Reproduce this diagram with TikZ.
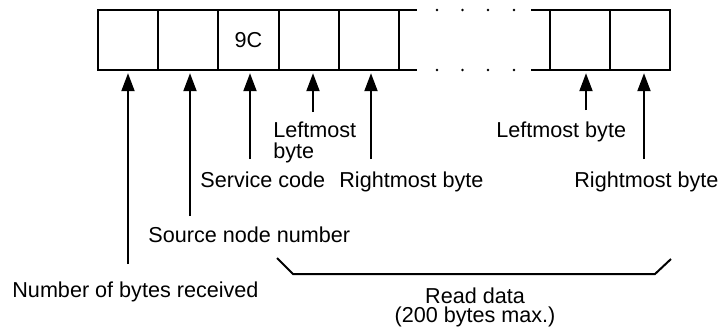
\documentclass[tikz,border=0pt]{standalone}
\usepackage{fontspec}
\setmainfont{Liberation Sans}
\usepackage{tikz}
\usetikzlibrary{arrows.meta}

\tikzset{
  cell/.style={draw, line width=1pt, minimum width=30.1pt, minimum height=30pt, inner sep=0pt, outer sep=0pt},
  rail/.style={line width=1pt},
  upar/.style={line width=1pt, -{Triangle[length=9pt,width=6.5pt]}, shorten >=1.6pt},
  lbl/.style={inner sep=0pt, font=\fontsize{10.8pt}{10pt}\selectfont},
  dot/.style={fill=black, draw=none, minimum size=1.3pt, inner sep=0pt, circle}
}

\begin{document}
\begin{tikzpicture}[x=0.5pt, y=-0.5pt]
\useasboundingbox (0,0) rectangle (724,329);
% response frame
\node[cell] (c1) at (128,40) {};
\node[cell] (c2) at (188.2,40) {};
\node[cell] (c3) at (248.4,40) {\fontsize{10.8pt}{10pt}\selectfont 9C};
\node[cell] (c4) at (308.6,40) {};
\node[cell] (c5) at (368.8,40) {};
\node[cell] (c7) at (580,40) {};
\node[cell] (c8) at (640.2,40) {};
\coordinate (e1) at (417,10);
\coordinate (e2) at (417,70);
\coordinate (s1) at (531,10);
\coordinate (s2) at (531,70);
\draw[rail] (c5.north east) -- (e1);
\draw[rail] (c5.south east) -- (e2);
\draw[rail] (s1) -- (c7.north west);
\draw[rail] (s2) -- (c7.south west);
\foreach \x in {437,462.5,488,514} {
  \node[dot] at (\x,10) {};
  \node[dot] at (\x,70) {};
}
% arrow tails
\coordinate (t1) at (128,264);
\coordinate (t2) at (190,216);
\coordinate (t3) at (250,159);
\coordinate (t4) at (313,112);
\coordinate (t5) at (371,159);
\coordinate (t7) at (586,110);
\coordinate (t8) at (644,159);
\draw[upar] (t1) -- (t1 |- c1.south);
\draw[upar] (t2) -- (t2 |- c2.south);
\draw[upar] (t3) -- (t3 |- c3.south);
\draw[upar] (t4) -- (t4 |- c4.south);
\draw[upar] (t5) -- (t5 |- c5.south);
\draw[upar] (t7) -- (t7 |- c7.south);
\draw[upar] (t8) -- (t8 |- c8.south);
% labels
\node[lbl, anchor=base west] (lb4) at (273,137) {Leftmost};
\node[lbl, anchor=base west] (lb4b) at (273,158) {byte};
\node[lbl, anchor=base west] (lb3) at (200,187) {Service code};
\node[lbl, anchor=base west] (lb5) at (339,187) {Rightmost byte};
\node[lbl, anchor=base west] (lb2) at (148,242) {Source node number};
\node[lbl, anchor=base west] (lb1) at (12,297) {Number of bytes received};
\node[lbl, anchor=base west] (lb7) at (496,137) {Leftmost byte};
\node[lbl, anchor=base west] (lb8) at (574,187) {Rightmost byte};
% read data bracket
\coordinate (b1) at (277,258);
\coordinate (b2) at (293,274);
\coordinate (b3) at (655,274);
\coordinate (b4) at (671,259);
\draw[rail] (b1) -- (b2) -- (b3) -- (b4);
\node[lbl, anchor=base] (rd) at (475,303) {Read data};
\node[lbl, anchor=base] (rdmax) at (475,322) {(200 bytes max.)};
\end{tikzpicture}
\end{document}
